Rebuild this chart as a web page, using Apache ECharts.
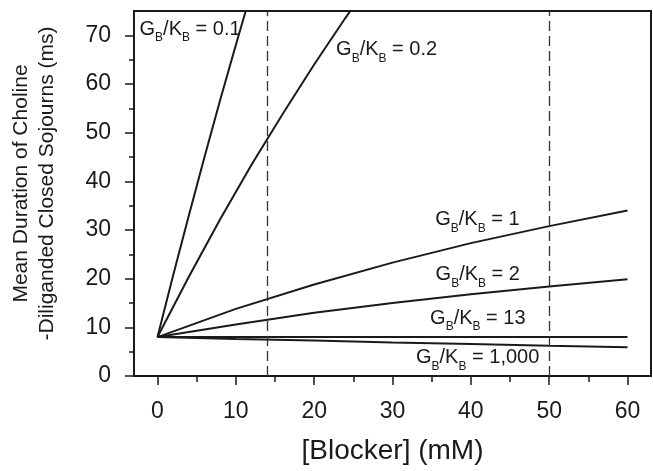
<!DOCTYPE html>
<html>
<head>
<meta charset="utf-8">
<script src="https://cdn.jsdelivr.net/npm/echarts@6/dist/echarts.min.js"></script>
<style>
  html, body { margin: 0; padding: 0; background: #fff; }
  #chart { width: 653px; height: 471px; }
</style>
</head>
<body>
<div id="chart"></div>
<script>
// Blocker concentration (mM) and mean closed-sojourn duration (ms) for each G_B/K_B ratio
const ratios = ['0.1', '0.2', '1', '2', '13', '1,000'];

const x_gb01 = [0, 2, 4, 6, 8, 10, 11.3];
const y_gb01 = [8, 20.7, 33.0, 45.0, 56.7, 68.0, 75.2];

const x_gb02 = [0, 4, 8, 12, 16, 20, 24, 25];
const y_gb02 = [8, 20.4, 32.2, 43.4, 53.9, 64.0, 73.6, 75.9];

const x_gb1 = [0, 10, 20, 30, 40, 50, 60];
const y_gb1 = [8, 13.8, 18.8, 23.3, 27.3, 30.8, 34.0];

const x_gb2 = [0, 10, 20, 30, 40, 50, 60];
const y_gb2 = [8, 10.6, 13.0, 15.0, 16.8, 18.4, 19.9];

const x_gb13 = [0, 60];
const y_gb13 = [8, 8];

const x_gb1000 = [0, 10, 20, 30, 40, 50, 60];
const y_gb1000 = [8, 7.6, 7.3, 6.9, 6.6, 6.2, 5.9];

// Reference concentrations marked with dashed verticals
const markConc = [14, 50];

// Axis ticks
const xMajor = [0, 10, 20, 30, 40, 50, 60];
const xMinor = [5, 15, 25, 35, 45, 55];
const yMajor = [0, 10, 20, 30, 40, 50, 60, 70];
const yMinor = [5, 15, 25, 35, 45, 55, 65];

// Where each curve's ratio label sits (data coordinates of the label's left-middle)
const labelAnchors = [
  [-2.29, 71.3],
  [22.8, 67.0],
  [35.45, 32.2],
  [35.5, 20.9],
  [34.8, 11.9],
  [33.0, 3.8]
];

const INK = '#1a1a1a';
const FONT = '"Liberation Sans", Arial, Helvetica, sans-serif';

function zip(xs, ys) { return xs.map((x, i) => [x, ys[i]]); }

const curves = [
  zip(x_gb01, y_gb01),
  zip(x_gb02, y_gb02),
  zip(x_gb1, y_gb1),
  zip(x_gb2, y_gb2),
  zip(x_gb13, y_gb13),
  zip(x_gb1000, y_gb1000)
];

const lineSeries = curves.map((d, i) => ({
  type: 'line',
  name: 'GB/KB = ' + ratios[i],
  data: d,
  showSymbol: false,
  symbol: 'none',
  clip: true,
  smooth: false,
  lineStyle: { color: INK, width: 2 },
  z: 3,
  markLine: i === 0 ? {
    silent: true,
    symbol: ['none', 'none'],
    label: { show: false },
    lineStyle: { color: '#333', width: 1.3, type: [10, 5] },
    data: markConc.map(v => ({ xAxis: v }))
  } : undefined
}));

const labelSeries = {
  type: 'scatter',
  symbolSize: 0,
  silent: true,
  z: 5,
  itemStyle: { color: INK, opacity: 1 },
  data: labelAnchors.map((p, i) => ({ value: p, ratio: ratios[i] })),
  label: {
    show: true,
    position: 'right',
    distance: 0,
    color: INK,
    opacity: 1,
    fontFamily: FONT,
    formatter: p => '{m|G}{s|B}{m|/K}{s|B}{m| = ' + p.data.ratio + '}',
    rich: {
      m: { fontFamily: FONT, fontSize: 20, color: INK, lineHeight: 30 },
      s: { fontFamily: FONT, fontSize: 12, color: INK, lineHeight: 14, verticalAlign: 'bottom' }
    }
  }
};

const chart = echarts.init(document.getElementById('chart'), null, { renderer: 'canvas' });

chart.setOption({
  animation: false,
  backgroundColor: '#fff',
  grid: {
    left: 133, right: 2, top: 11, bottom: 95,
    show: true, borderColor: INK, borderWidth: 2, backgroundColor: 'transparent'
  },
  xAxis: [
    {
      type: 'value', min: -3, max: 63,
      axisLine: { show: true, onZero: false, lineStyle: { color: INK, width: 2 } },
      axisTick: { show: true, customValues: xMajor, length: 9, lineStyle: { color: INK, width: 1.5 } },
      axisLabel: {
        customValues: xMajor, margin: 24, color: INK,
        fontFamily: FONT, fontSize: 23
      },
      splitLine: { show: false },
      name: '[Blocker] (mM)',
      nameLocation: 'middle',
      nameGap: 61,
      nameTextStyle: { fontFamily: FONT, fontSize: 28, color: INK }
    },
    {
      type: 'value', min: -3, max: 63, position: 'bottom',
      axisLine: { show: false, onZero: false },
      axisTick: { show: true, customValues: xMinor, length: 6, lineStyle: { color: INK, width: 1.5 } },
      axisLabel: { show: false },
      splitLine: { show: false }
    }
  ],
  yAxis: [
    {
      type: 'value', min: 0, max: 75,
      axisLine: { show: true, onZero: false, lineStyle: { color: INK, width: 2 } },
      axisTick: { show: true, customValues: yMajor, length: 9, lineStyle: { color: INK, width: 1.5 } },
      axisLabel: {
        customValues: yMajor, margin: 23, color: INK,
        fontFamily: FONT, fontSize: 23
      },
      splitLine: { show: false },
      name: 'Mean Duration of Choline\n-Diliganded Closed Sojourns (ms)',
      nameLocation: 'middle',
      nameGap: 74,
      nameTextStyle: { fontFamily: FONT, fontSize: 21, color: INK, lineHeight: 26, padding: [0, 0, 0, 20] }
    },
    {
      type: 'value', min: 0, max: 75, position: 'left',
      axisLine: { show: false, onZero: false },
      axisTick: { show: true, customValues: yMinor, length: 5, lineStyle: { color: INK, width: 1.5 } },
      axisLabel: { show: false },
      splitLine: { show: false }
    }
  ],
  series: lineSeries.concat([labelSeries])
});
</script>
</body>
</html>
